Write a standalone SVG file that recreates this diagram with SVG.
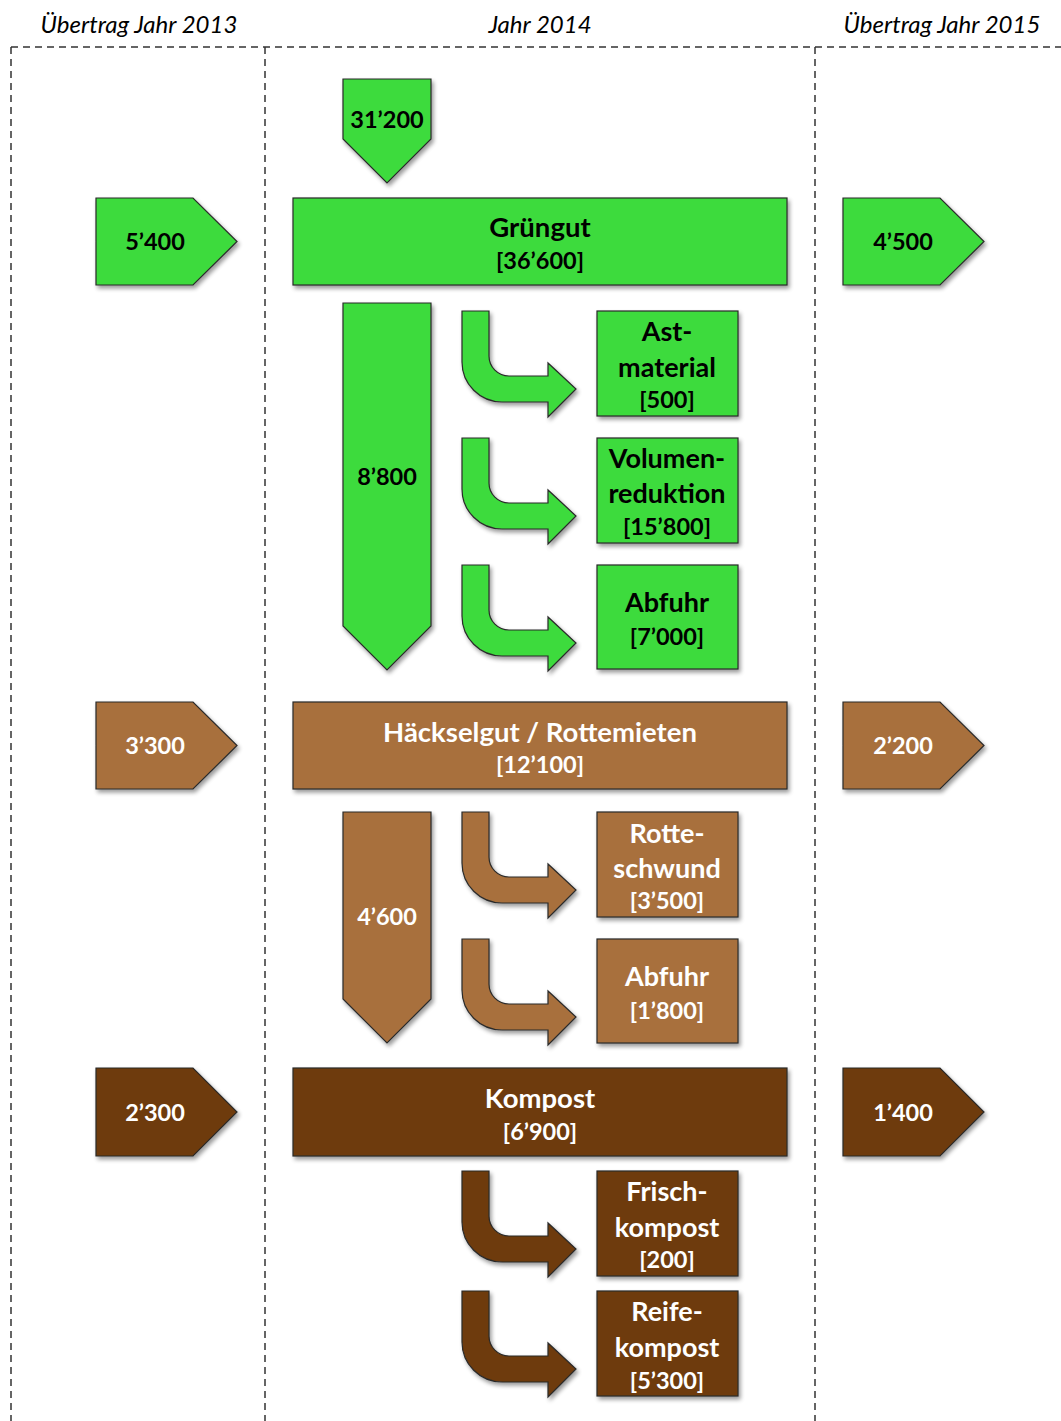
<svg xmlns="http://www.w3.org/2000/svg" width="1061" height="1421" viewBox="0 0 1061 1421">
<style>
.hdr{font-family:Lato,"Open Sans","Liberation Sans",sans-serif;font-style:italic;font-size:24px;fill:#000;text-anchor:middle}
.t{font-family:Lato,"Open Sans","Liberation Sans",sans-serif;font-weight:bold;text-anchor:middle}
.big{font-size:27.5px}
.mid{font-size:27px}
.sm{font-size:23.5px}
.g{fill:#3cdb3c;stroke:#2a2a2a;stroke-width:1.2;filter:url(#sh)}
.b{fill:#a8703c;stroke:#2a2a2a;stroke-width:1.2;filter:url(#sh)}
.d{fill:#6e3a08;stroke:#2a2a2a;stroke-width:1.2;filter:url(#sh)}
.tk{fill:#000}
.tw{fill:#fff}
.dash{stroke:#333;stroke-width:1.5;stroke-dasharray:7 5;fill:none}
</style>
<defs>
<filter id="sh" x="-10%" y="-10%" width="130%" height="130%">
<feGaussianBlur in="SourceAlpha" stdDeviation="2"/>
<feOffset dx="2" dy="3" result="o"/>
<feComponentTransfer><feFuncA type="linear" slope="0.4"/></feComponentTransfer>
<feMerge><feMergeNode/><feMergeNode in="SourceGraphic"/></feMerge>
</filter>
<path id="bent" d="M0,0 H27 V45 A20,20 0 0 0 47,65 H86 V52 L114,78 L86,106 V91 H40 A40,40 0 0 1 0,51 Z"/>
</defs>
<rect width="1061" height="1421" fill="#fff"/>
<g id="frame">
<path class="dash" d="M11,47 H1061 M11,47 V1421 M265,47 V1421 M815,47 V1421"/>
<text class="hdr" x="139" y="33">Übertrag Jahr 2013</text>
<text class="hdr" x="540" y="33">Jahr 2014</text>
<text class="hdr" x="942" y="33">Übertrag Jahr 2015</text>
</g>
<g id="connectors">
<use href="#bent" class="g" x="462" y="311"/>
<use href="#bent" class="g" x="462" y="438"/>
<use href="#bent" class="g" x="462" y="565"/>
<use href="#bent" class="b" x="462" y="812"/>
<use href="#bent" class="b" x="462" y="939"/>
<use href="#bent" class="d" x="462" y="1171"/>
<use href="#bent" class="d" x="462" y="1291"/>
</g>
<g id="in2014">
<path class="g" d="M343,79 H431 V139 L387,183 L343,139 Z"/>
<text class="t sm tk" x="387" y="128">31’200</text>
</g>
<g id="gruen-in">
<path class="g" d="M96,198 H193 L237,241.5 L193,285 H96 Z"/>
<text class="t sm tk" x="155" y="250">5’400</text>
</g>
<g id="gruengut">
<rect class="g" x="293" y="198" width="494" height="87"/>
<text class="t big tk" x="540" y="237">Grüngut</text>
<text class="t sm tk" x="540" y="269">[36’600]</text>
</g>
<g id="gruen-out">
<path class="g" d="M843,198 H940 L984,241.5 L940,285 H843 Z"/>
<text class="t sm tk" x="903" y="250">4’500</text>
</g>
<g id="flow8800">
<path class="g" d="M343,303 H431 V626 L387,670 L343,626 Z"/>
<text class="t sm tk" x="387" y="485">8’800</text>
</g>
<g id="astmaterial">
<rect class="g" x="597" y="311" width="141" height="105"/>
<text class="t mid tk" x="667" y="341">Ast-</text>
<text class="t mid tk" x="667" y="377">material</text>
<text class="t sm tk" x="667" y="408">[500]</text>
</g>
<g id="volumen">
<rect class="g" x="597" y="438" width="141" height="105"/>
<text class="t mid tk" x="667" y="468">Volumen-</text>
<text class="t mid tk" x="667" y="503">reduktion</text>
<text class="t sm tk" x="667" y="535">[15’800]</text>
</g>
<g id="abfuhr1">
<rect class="g" x="597" y="565" width="141" height="104"/>
<text class="t mid tk" x="667" y="612">Abfuhr</text>
<text class="t sm tk" x="667" y="645">[7’000]</text>
</g>
<g id="haecksel-in">
<path class="b" d="M96,702 H193 L237,745.5 L193,789 H96 Z"/>
<text class="t sm tw" x="155" y="754">3’300</text>
</g>
<g id="haeckselgut">
<rect class="b" x="293" y="702" width="494" height="87"/>
<text class="t big tw" x="540" y="742">Häckselgut / Rottemieten</text>
<text class="t sm tw" x="540" y="773">[12’100]</text>
</g>
<g id="haecksel-out">
<path class="b" d="M843,702 H940 L984,745.5 L940,789 H843 Z"/>
<text class="t sm tw" x="903" y="754">2’200</text>
</g>
<g id="flow4600">
<path class="b" d="M343,812 H431 V999 L387,1043 L343,999 Z"/>
<text class="t sm tw" x="387" y="925">4’600</text>
</g>
<g id="rotteschwund">
<rect class="b" x="597" y="812" width="141" height="105"/>
<text class="t mid tw" x="667" y="843">Rotte-</text>
<text class="t mid tw" x="667" y="878">schwund</text>
<text class="t sm tw" x="667" y="909">[3’500]</text>
</g>
<g id="abfuhr2">
<rect class="b" x="597" y="939" width="141" height="104"/>
<text class="t mid tw" x="667" y="986">Abfuhr</text>
<text class="t sm tw" x="667" y="1019">[1’800]</text>
</g>
<g id="kompost-in">
<path class="d" d="M96,1068 H193 L237,1112 L193,1156 H96 Z"/>
<text class="t sm tw" x="155" y="1121">2’300</text>
</g>
<g id="kompost">
<rect class="d" x="293" y="1068" width="494" height="88"/>
<text class="t big tw" x="540" y="1108">Kompost</text>
<text class="t sm tw" x="540" y="1140">[6’900]</text>
</g>
<g id="kompost-out">
<path class="d" d="M843,1068 H940 L984,1112 L940,1156 H843 Z"/>
<text class="t sm tw" x="903" y="1121">1’400</text>
</g>
<g id="frischkompost">
<rect class="d" x="597" y="1171" width="141" height="105"/>
<text class="t mid tw" x="667" y="1201">Frisch-</text>
<text class="t mid tw" x="667" y="1237">kompost</text>
<text class="t sm tw" x="667" y="1268">[200]</text>
</g>
<g id="reifekompost">
<rect class="d" x="597" y="1291" width="141" height="105"/>
<text class="t mid tw" x="667" y="1321">Reife-</text>
<text class="t mid tw" x="667" y="1357">kompost</text>
<text class="t sm tw" x="667" y="1389">[5’300]</text>
</g>
</svg>
